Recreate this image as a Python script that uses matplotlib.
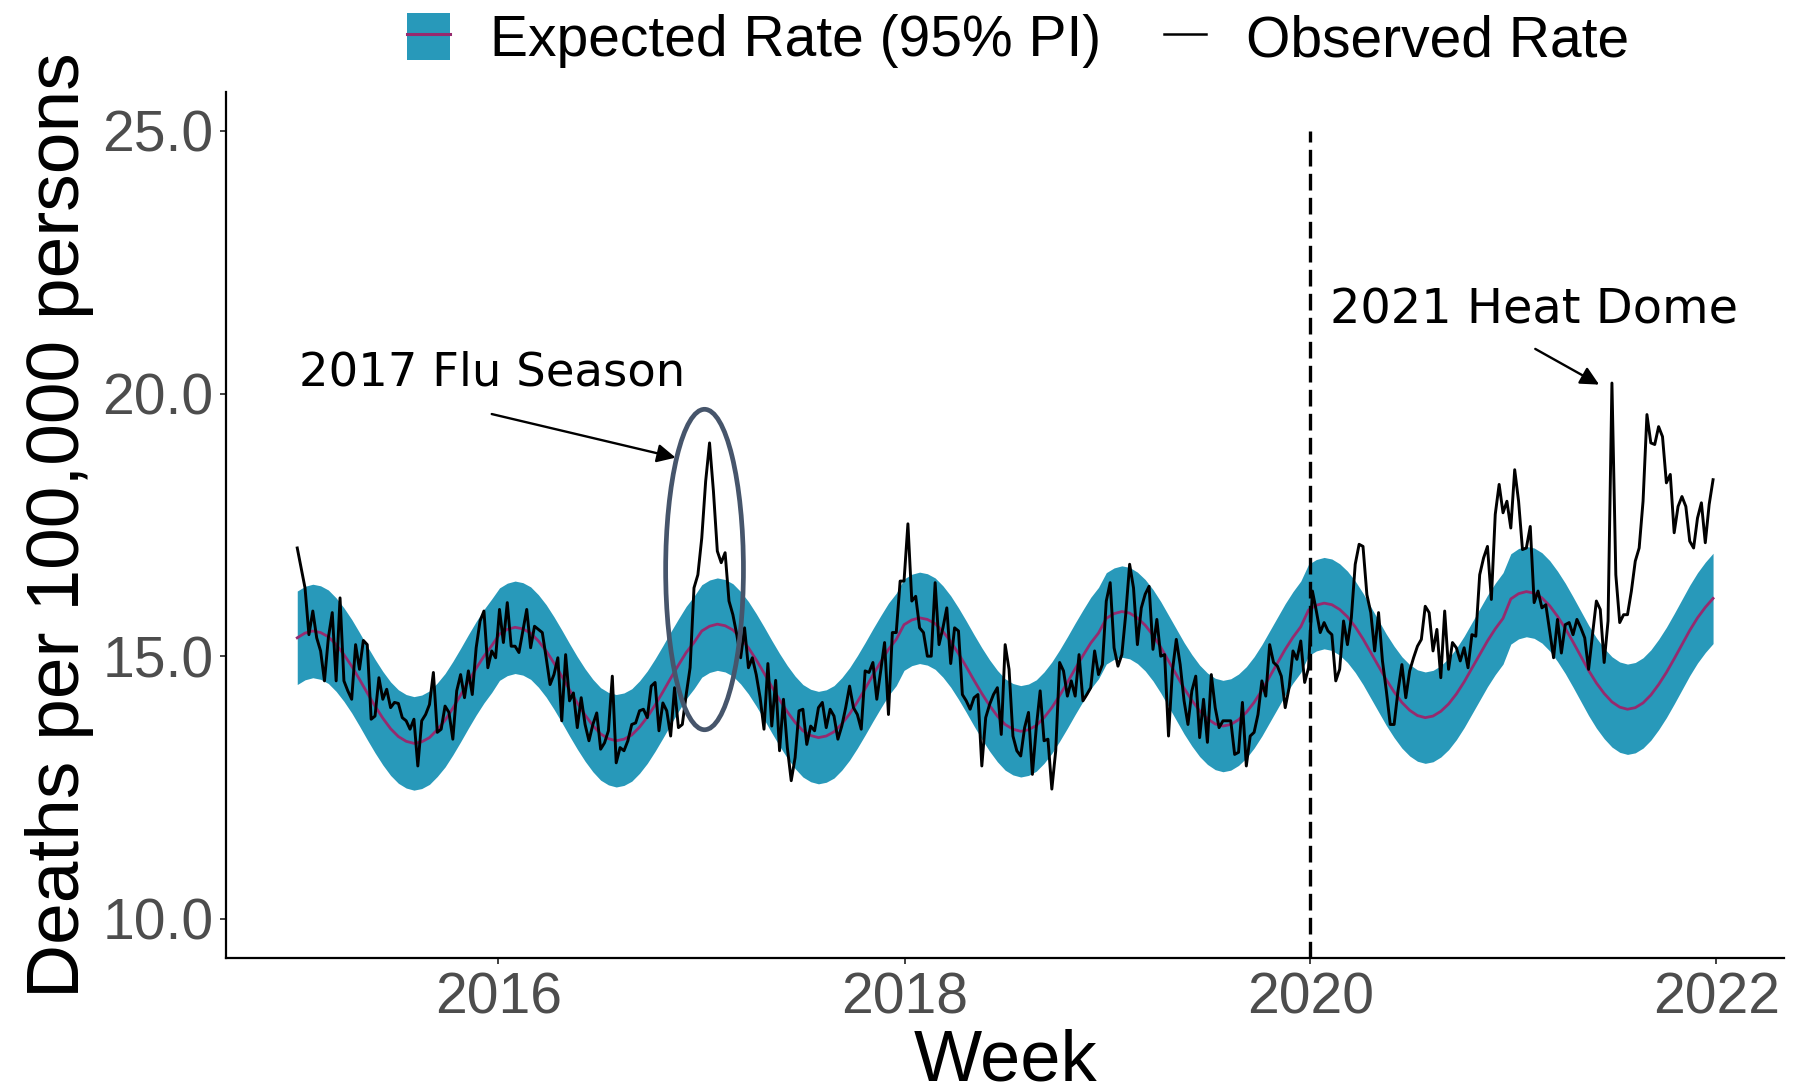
import matplotlib
matplotlib.use("Agg")
from matplotlib import pyplot as plt
import matplotlib.dates as mdates
from matplotlib.patches import Ellipse, Patch
from matplotlib.lines import Line2D
import pandas as pd

plt.rcParams['font.family'] = ['Liberation Sans', 'DejaVu Sans']

# weekly observed death rate per 100,000
observed_2015 = [17.06, 16.68, 16.30, 15.41, 15.86, 15.35, 15.10, 14.53, 15.35, 15.83,
                 14.53, 16.11, 14.53, 14.34, 14.18, 15.22, 14.75, 15.30, 15.22, 13.80,
                 13.86, 14.59, 14.18, 14.37, 14.02, 14.12, 14.10, 13.83, 13.77, 13.61,
                 13.80, 12.91, 13.77, 13.89, 14.08, 14.69, 13.55, 13.61, 14.05, 13.93,
                 13.42, 14.34, 14.65, 14.21, 14.72, 14.27, 15.16, 15.67, 15.86, 14.78,
                 15.10, 14.97]
observed_2016 = [15.89, 15.26, 16.02, 15.19, 15.19, 15.07, 15.48, 15.89, 15.16, 15.57,
                 15.51, 15.45, 14.97, 14.46, 14.65, 14.97, 13.77, 15.03, 14.15, 14.30,
                 13.64, 14.21, 13.70, 13.39, 13.70, 13.92, 13.23, 13.35, 13.58, 14.62,
                 12.97, 13.26, 13.20, 13.39, 13.70, 13.73, 13.96, 13.99, 13.83, 14.43,
                 14.50, 13.58, 14.11, 13.96, 13.48, 14.40, 13.64, 13.70, 14.27, 14.78,
                 16.30, 16.55]
observed_2017 = [17.25, 18.33, 19.06, 18.14, 17.00, 16.78, 16.97, 16.05, 15.79, 15.41,
                 14.97, 15.54, 14.78, 14.97, 14.65, 14.21, 13.61, 14.86, 13.67, 14.54,
                 13.20, 14.18, 13.26, 12.63, 13.07, 13.96, 13.99, 13.32, 13.67, 13.58,
                 14.02, 14.12, 13.64, 13.99, 13.86, 13.42, 13.67, 14.02, 14.43, 14.02,
                 13.89, 13.61, 14.72, 14.69, 14.88, 14.18, 14.72, 15.26, 13.89, 15.45,
                 15.45, 16.43]
observed_2018 = [16.43, 17.52, 16.05, 16.14, 15.54, 15.45, 15.00, 15.00, 16.40, 15.22,
                 15.54, 15.92, 14.86, 15.54, 15.48, 14.27, 14.15, 13.99, 14.21, 14.27,
                 12.91, 13.83, 14.08, 14.27, 14.40, 13.51, 15.22, 14.75, 13.48, 13.20,
                 13.10, 13.64, 13.93, 12.75, 13.64, 14.34, 13.39, 13.42, 12.47, 13.20,
                 14.88, 14.72, 14.24, 14.53, 14.24, 15.03, 14.15, 14.27, 14.40, 15.10,
                 14.65, 14.84]
observed_2019 = [16.05, 16.40, 15.16, 14.81, 15.03, 15.80, 16.75, 16.30, 15.22, 15.92,
                 16.18, 16.33, 15.13, 15.70, 15.00, 15.03, 13.48, 14.72, 15.32, 14.84,
                 14.15, 13.70, 14.34, 14.62, 13.45, 14.18, 13.36, 14.65, 14.02, 13.64,
                 13.77, 13.77, 13.77, 13.13, 13.17, 14.12, 12.91, 13.48, 13.55, 13.89,
                 14.53, 14.24, 15.22, 14.88, 14.81, 14.62, 14.02, 14.40, 15.10, 14.94,
                 15.29, 14.50]
observed_2020 = [14.78, 16.24, 15.86, 15.45, 15.64, 15.48, 15.41, 14.53, 14.75, 15.67,
                 15.22, 15.73, 16.75, 17.13, 17.09, 16.17, 15.83, 15.10, 15.83, 14.91,
                 14.34, 13.70, 13.70, 14.34, 14.84, 14.21, 14.72, 14.97, 15.19, 15.32,
                 15.95, 15.83, 15.10, 15.51, 14.59, 15.86, 14.75, 15.26, 15.16, 14.91,
                 15.16, 14.78, 15.41, 15.38, 16.55, 16.87, 17.09, 16.08, 17.70, 18.27,
                 17.73, 17.95]
observed_2021 = [17.44, 18.55, 17.95, 17.03, 17.06, 17.47, 16.02, 16.24, 15.92, 15.98,
                 15.48, 14.97, 15.70, 15.06, 15.60, 15.64, 15.41, 15.70, 15.54, 15.35,
                 14.75, 15.41, 16.05, 15.89, 14.88, 15.67, 20.20, 16.55, 15.64, 15.79,
                 15.79, 16.24, 16.81, 17.06, 17.95, 19.60, 19.06, 19.03, 19.37, 19.18,
                 18.30, 18.46, 17.35, 17.85, 18.04, 17.85, 17.19, 17.06, 17.63, 17.92,
                 17.16, 17.89, 18.36]

# expected rate, every two weeks
expected_2015 = [15.35, 15.44, 15.48, 15.45, 15.37, 15.22, 15.03, 14.81, 14.56, 14.30,
                 14.05, 13.82, 13.62, 13.47, 13.38, 13.34, 13.37, 13.45, 13.60, 13.78,
                 14.01, 14.26, 14.52, 14.77, 15.00, 15.20]
expected_2016 = [15.42, 15.51, 15.55, 15.52, 15.44, 15.29, 15.10, 14.87, 14.62, 14.36,
                 14.11, 13.88, 13.68, 13.52, 13.43, 13.39, 13.42, 13.50, 13.65, 13.84,
                 14.07, 14.32, 14.58, 14.83, 15.07, 15.26]
expected_2017 = [15.48, 15.57, 15.61, 15.58, 15.50, 15.35, 15.16, 14.93, 14.68, 14.42,
                 14.17, 13.94, 13.74, 13.58, 13.49, 13.45, 13.48, 13.56, 13.71, 13.90,
                 14.13, 14.38, 14.64, 14.89, 15.13, 15.32]
expected_2018 = [15.60, 15.69, 15.73, 15.70, 15.62, 15.47, 15.28, 15.05, 14.80, 14.54,
                 14.29, 14.06, 13.86, 13.70, 13.61, 13.57, 13.60, 13.68, 13.83, 14.02,
                 14.25, 14.50, 14.76, 15.01, 15.25, 15.44]
expected_2019 = [15.72, 15.81, 15.85, 15.82, 15.73, 15.59, 15.40, 15.17, 14.91, 14.65,
                 14.39, 14.16, 13.96, 13.81, 13.71, 13.67, 13.70, 13.79, 13.93, 14.12,
                 14.35, 14.61, 14.87, 15.13, 15.36, 15.56]
expected_2020 = [15.88, 15.97, 16.01, 15.98, 15.89, 15.75, 15.56, 15.33, 15.07, 14.81,
                 14.55, 14.32, 14.12, 13.97, 13.87, 13.83, 13.86, 13.95, 14.09, 14.28,
                 14.51, 14.77, 15.03, 15.29, 15.52, 15.72]
expected_2021 = [16.09, 16.19, 16.23, 16.20, 16.11, 15.96, 15.76, 15.53, 15.27, 15.00,
                 14.73, 14.49, 14.29, 14.13, 14.03, 13.99, 14.02, 14.11, 14.26, 14.46,
                 14.69, 14.95, 15.22, 15.49, 15.73, 15.93, 16.10]
# half width of the 95% prediction interval, per year
pi_half_by_year = [0.89, 0.88, 0.88, 0.87, 0.87, 0.87, 0.86]

observed = (observed_2015 + observed_2016 + observed_2017 + observed_2018
            + observed_2019 + observed_2020 + observed_2021)
exp_years = [expected_2015, expected_2016, expected_2017, expected_2018,
             expected_2019, expected_2020, expected_2021]
expected, lower, upper = [], [], []
for vals, h in zip(exp_years, pi_half_by_year):
    expected += vals
    lower += [v - h for v in vals]
    upper += [v + h for v in vals]

weeks = pd.date_range('2015-01-04', periods=len(observed), freq='7D')
fortnights = pd.date_range('2015-01-04', periods=len(expected), freq='14D')

TEAL = '#2899BA'
MAGENTA = '#962A6E'
SLATE = '#46556B'

fig = plt.figure(figsize=(17.93, 10.92), dpi=100)
ax = fig.add_axes([0.1263, 0.1225, 0.8686, 0.7937])

ax.fill_between(fortnights, lower, upper, color=TEAL, lw=0, zorder=1)
ax.plot(fortnights, expected, color=MAGENTA, lw=2.0, zorder=2)
ax.plot(weeks, observed, color='black', lw=2.1, zorder=3)

ylo, yhi = 9.25, 25.75
covid = pd.Timestamp('2020-01-01')
ax.plot([covid, covid], [ylo, 25.0], color='black', lw=2.4,
        ls=(0, (5, 2.2)), zorder=4)

flu = Ellipse((mdates.date2num(pd.Timestamp('2017-01-06')), 16.65),
              width=140, height=6.1, fill=False, edgecolor=SLATE, lw=3.4, zorder=5)
ax.add_patch(flu)

arrow = dict(arrowstyle='-|>', color='black', lw=1.7, mutation_scale=28,
             shrinkA=0, shrinkB=0)
ax.annotate('', xy=(pd.Timestamp('2016-11-15'), 18.78),
            xytext=(pd.Timestamp('2015-12-20'), 19.61), arrowprops=arrow)
ax.annotate('', xy=(pd.Timestamp('2021-06-04'), 20.17),
            xytext=(pd.Timestamp('2021-02-09'), 20.85), arrowprops=arrow)
ax.text(pd.Timestamp('2015-01-07'), 20.39, '2017 Flu Season', family='DejaVu Sans',
        fontsize=33.5, va='center', ha='left')
ax.text(pd.Timestamp('2020-02-05'), 21.59, '2021 Heat Dome', family='DejaVu Sans',
        fontsize=34.5, va='center', ha='left')

pad = (weeks[-1] - weeks[0]) * 0.05
ax.set_xlim(weeks[0] - pad, weeks[-1] + pad)
ax.set_ylim(ylo, yhi)
ax.xaxis.set_major_locator(mdates.YearLocator(2))
ax.xaxis.set_major_formatter(mdates.DateFormatter('%Y'))
ax.set_yticks([10, 15, 20, 25])
ax.set_yticklabels(['10.0', '15.0', '20.0', '25.0'])

for side in ['top', 'right']:
    ax.spines[side].set_visible(False)
for side in ['left', 'bottom']:
    ax.spines[side].set_linewidth(1.6)
ax.tick_params(labelsize=41, labelcolor='#4D4D4D', color='#333333',
               length=4.5, width=1.3, pad=5)

ax.set_xlabel('Week', fontsize=52, labelpad=2)
ax.set_ylabel('Deaths per 100,000 persons', fontsize=54, labelpad=6)

handles = [(Patch(facecolor=TEAL, edgecolor='none'), Line2D([], [], color=MAGENTA, lw=2.2)),
           Line2D([], [], color='black', lw=1.8)]
fig.legend(handles, ['Expected Rate (95% PI)', 'Observed Rate'],
           loc='center', bbox_to_anchor=(0.568, 0.963), ncol=2, frameon=False,
           fontsize=41, handlelength=0.75, handleheight=0.9, handletextpad=0.7,
           columnspacing=1.1, borderpad=0)

fig.savefig('out.png', dpi=100)
